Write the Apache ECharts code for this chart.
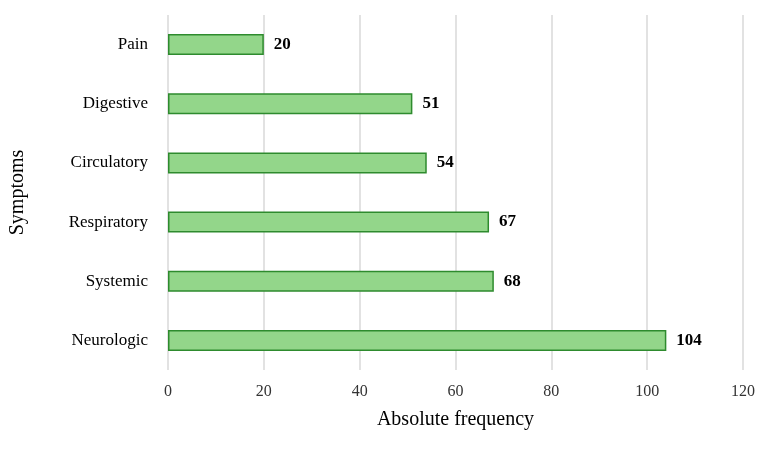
<!DOCTYPE html>
<html><head><meta charset="utf-8">
<script src="https://cdn.jsdelivr.net/npm/echarts@6/dist/echarts.min.js"></script>
<style>html,body{margin:0;padding:0;background:#fff}#c{width:767px;height:456px}</style>
</head><body><div id="c"></div>
<script>
const categories = ['Neurologic','Systemic','Respiratory','Circulatory','Digestive','Pain'];
const values = [104,68,67,54,51,20];
const font = 'Liberation Serif';
const chart = echarts.init(document.getElementById('c'));
chart.setOption({
  animation:false,
  grid:{left:163,right:24,top:15,bottom:86,containLabel:false},
  xAxis:{type:'value',min:0,max:120,interval:20,
    name:'Absolute frequency',nameLocation:'middle',nameGap:40,
    nameTextStyle:{fontFamily:font,fontSize:20,color:'#000'},
    axisLabel:{fontFamily:font,fontSize:16,color:'#333',margin:14},
    axisLine:{show:false},axisTick:{show:false},
    splitLine:{lineStyle:{color:'#d9d9d9',width:1.5}}},
  yAxis:{type:'category',data:categories,
    name:'Symptoms',nameLocation:'middle',nameGap:140,nameRotate:90,
    nameTextStyle:{fontFamily:font,fontSize:20,color:'#000'},
    axisLabel:{fontFamily:font,fontSize:17,color:'#000',margin:20},
    axisLine:{show:false},axisTick:{show:false}},
  series:[{type:'bar',data:values,barWidth:21,
    itemStyle:{color:'#93d68a',borderColor:'#2e8b2e',borderWidth:1.5},
    label:{show:true,position:'right',distance:10,fontFamily:font,fontSize:17,fontWeight:'bold',color:'#000'}}]
});
</script></body></html>
